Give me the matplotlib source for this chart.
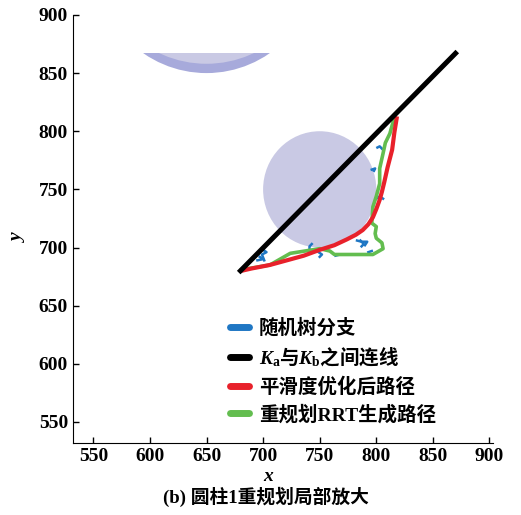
import numpy as np
import matplotlib.pyplot as plt
from matplotlib.patches import Circle, Rectangle
from matplotlib.lines import Line2D

plt.rcParams['font.family'] = ['Liberation Serif', 'Noto Sans CJK SC']
plt.rcParams['mathtext.fontset'] = 'custom'
plt.rcParams['mathtext.rm'] = 'Liberation Serif:bold'
plt.rcParams['mathtext.it'] = 'Liberation Serif:italic:bold'
plt.rcParams['mathtext.bf'] = 'Liberation Serif:bold'

# obstacles (center x, center y, radius)
obstacle_main = (750, 750, 50)
obstacle_top = (650, 950, 100)

# straight connection Ka -> Kb
line_x = [680, 870]
line_y = [680, 867]

# smoothed path
red_x = [681, 690, 706, 721, 736, 750, 763, 774, 782, 788, 793, 797, 800, 803, 805, 807, 810, 814, 816, 818]
red_y = [680, 682, 685, 689, 693, 698, 702, 707, 711, 715, 720, 726, 733, 741, 748, 756, 769, 784, 799, 811]

# replanned RRT path
green_x = [681, 694, 706, 715, 724, 737, 750, 759, 763, 780, 797, 806, 805, 800, 799, 800, 796, 797, 800, 803, 803, 806, 808, 812, 816]
green_y = [681, 683, 685, 690, 695, 697, 699, 697, 694, 694, 694, 699, 704, 708, 712, 718, 721, 735, 744, 755, 768, 781, 790, 798, 812]

# random tree branches (short segments)
blue_segments = [
    ([701, 699, 703, 700], [689, 694, 696, 698]),
    ([695, 700, 697], [689, 690, 692]),
    ([741, 741, 743], [697, 701, 703]),
    ([750, 752, 749], [692, 694, 696]),
    ([764, 768], [693, 694]),
    ([783, 787, 792, 790], [706, 705, 705, 702]),
    ([786, 789, 787], [706, 703, 701]),
    ([793, 796], [696, 697]),
    ([800, 803, 806], [742, 744, 742]),
    ([796, 799, 798], [767, 768, 766]),
    ([801, 803, 805], [786, 787, 785]),
]

legend_labels = ['随机树分支', r'$K_\mathrm{a}$与$K_\mathrm{b}$之间连线', '平滑度优化后路径', '重规划RRT生成路径']
legend_colors = ['#1f77c4', 'black', '#e8212b', '#63bd4f']

fig = plt.figure(figsize=(5.21, 5.15), dpi=100)
ax = fig.add_axes([0.140, 0.140, 0.806, 0.831])

fill_c = '#c9c9e4'
rim_c = '#a7aadb'
cx, cy, r = obstacle_main
ax.add_patch(Circle((cx, cy), r, color=fill_c, lw=0, zorder=1))

tx, ty, tr = obstacle_top
clip = Rectangle((500, 500), 500, 367, transform=ax.transData)
c1 = Circle((tx, ty), tr, color=rim_c, lw=0, zorder=1)
c2 = Circle((tx, ty + 8), tr, color=fill_c, lw=0, zorder=1)
for c in (c1, c2):
    ax.add_patch(c)
    c.set_clip_path(clip)

for sx, sy in blue_segments:
    ax.plot(sx, sy, color=legend_colors[0], lw=1.8, zorder=2)
ax.plot(green_x, green_y, color=legend_colors[3], lw=2.6, zorder=3)
ax.plot(red_x, red_y, color=legend_colors[2], lw=3.0, zorder=4)
ax.plot(line_x, line_y, color=legend_colors[1], lw=3.6, zorder=5)

ax.set_xlim(532, 903)
ax.set_ylim(532, 900)
ax.set_xticks(np.arange(550, 901, 50))
ax.set_yticks(np.arange(550, 901, 50))
ax.tick_params(direction='in', length=4, labelsize=14, width=1)
for lab in ax.get_xticklabels() + ax.get_yticklabels():
    lab.set_fontweight('bold')
for s in ['top', 'right']:
    ax.spines[s].set_visible(False)
ax.set_xlabel('x', fontsize=14, fontstyle='italic', fontweight='bold')
ax.set_ylabel('y', fontsize=14, fontstyle='italic', fontweight='bold')
ax.xaxis.set_label_coords(0.464, -0.058)
ax.yaxis.set_label_coords(-0.11, 0.479)

handles = [Line2D([0], [0], color=c, lw=5, solid_capstyle='round') for c in legend_colors]
leg = ax.legend(handles, legend_labels, loc='upper left', bbox_to_anchor=(0.355, 0.31),
                frameon=False, handlelength=1.0, handletextpad=0.5, labelspacing=0.42,
                borderaxespad=0, prop={'size': 14, 'weight': 'bold'})
# mathtext draws plain text with the text's own font, so give this one a CJK font
leg.get_texts()[1].set_fontfamily('Noto Sans CJK SC')

fig.text(0.511, 0.035, '(b) 圆柱1重规划局部放大', ha='center', va='center', fontsize=13.5, fontweight='bold')

fig.savefig('out.png', dpi=100)
